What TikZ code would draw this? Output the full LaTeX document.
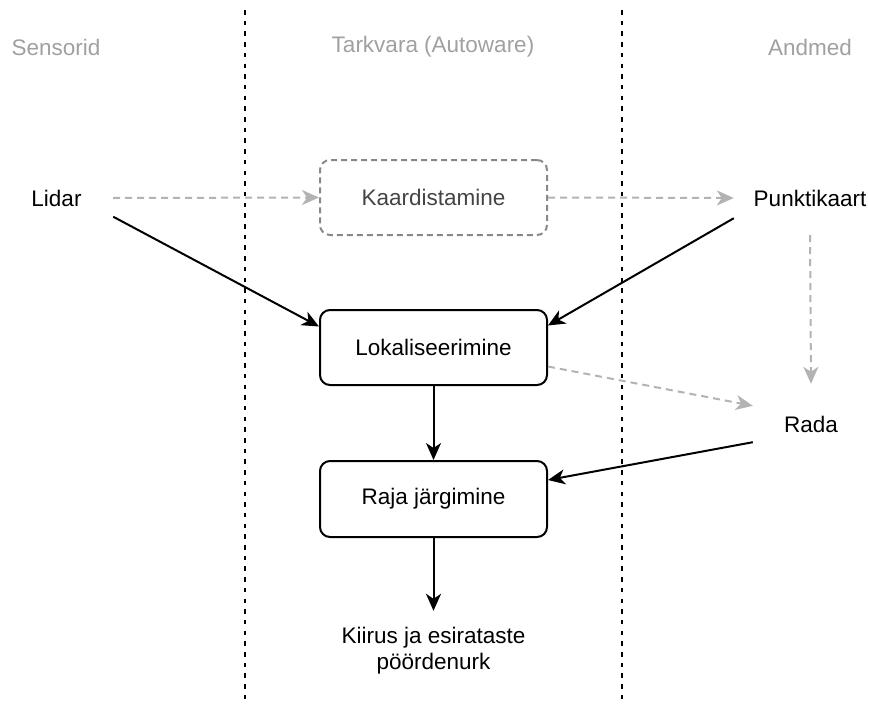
\documentclass[tikz,border=0pt]{standalone}
\usepackage{fontspec}
\setmainfont{Liberation Sans}
\usetikzlibrary{arrows.meta,calc}
\definecolor{lanegray}{HTML}{A0A0A0}
\definecolor{flowgray}{HTML}{B3B3B3}
\definecolor{boxgray}{HTML}{888888}
\definecolor{textgray}{HTML}{444444}
\begin{document}
\begin{tikzpicture}[x=1pt,y=-1pt,
  font=\fontsize{22.5}{26}\selectfont,
  lane/.style={draw=black, line width=2pt, dash pattern=on 4.5pt off 6.2pt},
  header/.style={text=lanegray},
  endpoint/.style={inner sep=0pt},
  stage/.style={draw, line width=2pt, rounded corners=10pt,
                minimum width=227pt, minimum height=75pt},
  draftstage/.style={stage, draw=boxgray, dash pattern=on 6pt off 4pt, text=textgray},
  flow/.style={line width=2pt, -{Stealth[length=17pt,width=15pt,inset=5pt]}},
  draftflow/.style={flow, draw=flowgray, dash pattern=on 7pt off 5pt}
]
\useasboundingbox (0,0) rectangle (869,704);

% lane separators
\draw[lane] (245,10) -- (245,704);
\draw[lane] (622,10) -- (622,704);

% lane headers
\node[header] (hSens) at (56,47) {Sensorid};
\node[header] (hSoft) at (433,47) {Tarkvara (Autoware)};
\node[header] (hData) at (810,47) {Andmed};

% sources, data and output
\node[endpoint, minimum width=113pt, minimum height=37pt] (lidar) at (56.5,198) {Lidar};
\node[endpoint, minimum width=152pt, minimum height=40pt] (punkt) at (810,198) {Punktikaart};
\node[endpoint, minimum width=116pt, minimum height=36pt] (rada) at (811,424) {Rada};
\node[endpoint, align=center, minimum height=80pt] (kiirus) at (433.5,651)
  {Kiirus ja esirataste\\pöördenurk};

% processing stages
\node[draftstage] (kaard) at (433.5,197.5) {Kaardistamine};
\node[stage] (lokal) at (433.5,347.5) {Lokaliseerimine};
\node[stage, minimum height=76pt] (raja) at (433.5,499) {Raja järgimine};

% mapping path (offline)
\draw[draftflow] (lidar.east) -- (kaard.west);
\draw[draftflow] (kaard.east) -- (punkt.west);
\draw[draftflow] ([yshift=-17pt]punkt.south) -- ([yshift=22pt]rada.north);
\draw[draftflow] ([yshift=-19pt]lokal.east) -- (rada.north west);

% runtime path
\draw[flow] (lidar.south east) -- ([yshift=21pt]lokal.west);
\draw[flow] (punkt.south west) -- ([yshift=22pt]lokal.east);
\draw[flow] (lokal.south) -- (raja.north);
\draw[flow] (rada.south west) -- ([yshift=19pt]raja.east);
\draw[flow] (raja.south) -- (kiirus.north);
\end{tikzpicture}
\end{document}
